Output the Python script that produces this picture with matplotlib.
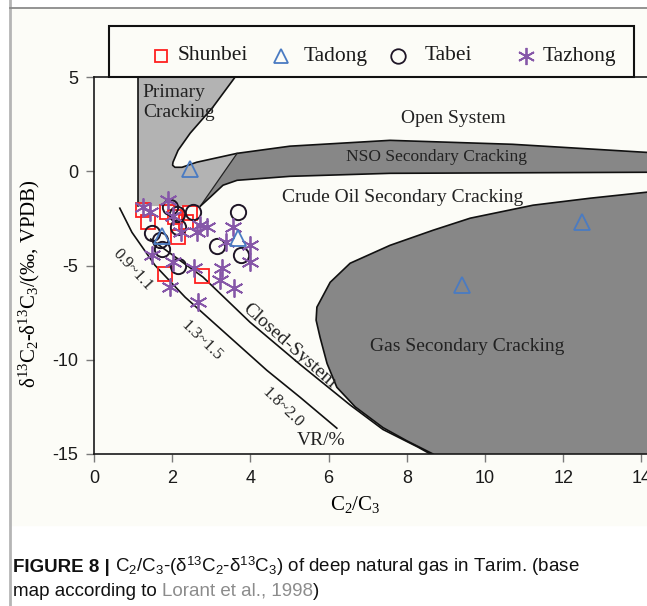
import numpy as np
import matplotlib.pyplot as plt
from matplotlib.patches import Polygon, Rectangle
from matplotlib.lines import Line2D

plt.rcParams['font.family'] = ['Liberation Serif', 'DejaVu Serif']
plt.rcParams['mathtext.fontset'] = 'custom'
plt.rcParams['mathtext.rm'] = 'Liberation Serif'
plt.rcParams['mathtext.it'] = 'Liberation Serif:italic'
plt.rcParams['mathtext.sf'] = 'Liberation Sans'
plt.rcParams['axes.unicode_minus'] = False

# C2/C3 ratio and d13C2-d13C3 for each area
shunbei_x = [1.25, 1.38, 1.87, 2.07, 2.46, 2.35, 2.15, 1.82, 2.76]
shunbei_y = [-2.07, -2.71, -2.18, -2.44, -2.23, -2.71, -3.50, -5.46, -5.57]

tadong_x = [2.45, 1.74, 3.68, 9.41, 12.48]
tadong_y = [0.1, -3.45, -3.55, -6.05, -2.7]

tabei_x = [1.94, 2.12, 2.53, 2.15, 1.48, 1.69, 1.74, 2.15, 3.15, 3.68, 3.76]
tabei_y = [-1.91, -2.28, -2.18, -2.97, -3.29, -3.66, -4.14, -5.04, -3.98, -2.18, -4.46]

tazhong_x = [1.25, 1.43, 1.89, 2.02, 2.23, 2.63, 2.89, 3.55, 3.38, 3.99, 3.99,
             1.48, 2.02, 2.56, 3.27, 3.22, 3.58, 1.94, 2.66, 2.71]
tazhong_y = [-1.91, -2.18, -1.54, -2.39, -3.24, -3.24, -2.97, -2.97, -3.77, -3.93, -4.83,
             -4.46, -4.83, -5.15, -5.15, -5.78, -6.21, -6.15, -6.95, -2.86]

# base map (Lorant et al., 1998) outlines, data units
primary_left = 1.125
primary_curve = [(3.61, 5.0), (3.04, 3.40), (2.46, 2.02), (2.15, 1.11), (2.02, 0.48),
                 (2.01, 0.32), (2.07, 0.21), (2.25, 0.21), (2.63, 0.48), (3.66, 0.95)]
nso_top = [(3.66, 0.95), (5.01, 1.33), (7.57, 1.64), (10.7, 1.43), (14.14, 1.0), (14.6, 0.97)]
nso_bottom = [(2.72, -1.85), (2.97, -1.38), (3.30, -0.74), (3.66, -0.48), (5.01, -0.27),
              (7.57, -0.11), (14.6, -0.05)]
primary_bottom = -1.85
gas_edge = [(14.6, -0.97), (14.14, -1.11), (12.69, -1.43), (11.23, -1.80), (9.62, -2.49),
            (8.67, -3.13), (7.57, -3.93), (6.55, -4.88), (6.04, -5.89), (5.70, -7.21),
            (5.68, -7.9), (5.78, -8.8), (5.96, -10.2), (6.21, -11.46), (6.68, -12.5),
            (7.39, -13.6), (8.0, -14.3), (8.67, -15.0)]
vr_line = [(0.66, -1.96), (0.97, -3.24), (1.56, -4.99), (2.33, -6.68), (4.42, -10.56),
           (5.27, -11.99), (6.21, -13.63)]
closed_line = [(1.45, -3.6), (2.79, -5.62), (3.99, -8.01), (5.27, -10.25), (6.55, -12.4),
               (7.39, -13.7), (8.29, -14.64), (8.6, -15.0)]

light_gray = '#b3b3b3'
dark_gray = '#878787'

W, H = 647, 606
fig = plt.figure(figsize=(W / 100, H / 100), dpi=100)
fig.patch.set_facecolor('white')
fig.patches.append(Rectangle((10 / W, 1 - 525 / H), 1, 525 / H - 8 / H,
                             transform=fig.transFigure, color='#fcfcf7', zorder=-5))
fig.add_artist(Line2D([10 / W, 10 / W], [0, 1], color='#b5b5b5', lw=2))
fig.add_artist(Line2D([10 / W, 1], [1 - 8 / H, 1 - 8 / H], color='#8a8a8a', lw=1.3))

ax = fig.add_axes([94 / W, 1 - 454 / H, 567 / W, 377 / H])
ax.set_facecolor('none')
ax.set_xlim(0, 14.5)
ax.set_ylim(-15, 5)

# gray fields
primary_poly = [(primary_left, 5.0)] + primary_curve + [nso_bottom[0], (primary_left, primary_bottom)]
ax.add_patch(Polygon(primary_poly, closed=True, fc=light_gray, ec='none', zorder=1))
nso_poly = nso_top + nso_bottom[::-1]
ax.add_patch(Polygon(nso_poly, closed=True, fc=dark_gray, ec='none', zorder=1))
gas_poly = gas_edge + [(14.6, -15.0)]
ax.add_patch(Polygon(gas_poly, closed=True, fc=dark_gray, ec='none', zorder=1))

# outlines
line_kw = dict(color='#111111', lw=1.2, zorder=2)
ax.plot([primary_left, primary_left], [5.0, primary_bottom], **line_kw)
px, py = zip(*(primary_curve + nso_top[1:]))
ax.plot(px, py, **line_kw)
ax.plot([nso_top[0][0], nso_bottom[0][0]], [nso_top[0][1], nso_bottom[0][1]], color='#222222', lw=0.9, zorder=2)
bx, by = zip(*nso_bottom)
ax.plot(bx, by, **line_kw)
gx, gy = zip(*gas_edge)
ax.plot(gx, gy, **line_kw)
vx, vy = zip(*vr_line)
ax.plot(vx, vy, **line_kw)
cx, cy = zip(*closed_line)
ax.plot(cx, cy, **line_kw)

# field labels
lab = dict(color='#222222', ha='center', va='center', zorder=3)
ax.text(1.25, 4.19, 'Primary', fontsize=14, ha='left', va='center', color='#222222', zorder=3)
ax.text(1.25, 3.13, 'Cracking', fontsize=14, ha='left', va='center', color='#222222', zorder=3)
ax.text(9.18, 2.81, 'Open System', fontsize=14, **lab)
ax.text(8.77, 0.74, 'NSO Secondary Cracking', fontsize=12.5, **lab)
ax.text(7.88, -1.38, 'Crude Oil Secondary Cracking', fontsize=14, **lab)
ax.text(9.54, -9.28, 'Gas Secondary Cracking', fontsize=14, **lab)
ax.text(4.99, -9.28, 'Closed-System', fontsize=14, rotation=-41.5, **lab)
ax.text(1.0, -5.25, '0.9~1.1', fontsize=12, rotation=-47, **lab)
ax.text(2.74, -8.97, '1.3~1.5', fontsize=12, rotation=-44, **lab)
ax.text(4.81, -12.52, '1.8~2.0', fontsize=12, rotation=-44, **lab)
ax.text(5.81, -14.27, 'VR/%', fontsize=14, **lab)

# samples
mk = dict(ls='none', mfc='none', zorder=5)
ax.plot(shunbei_x, shunbei_y, marker='s', ms=9.5, mec='#ff2020', mew=1.3, label='Shunbei', **mk)
ax.plot(tabei_x, tabei_y, marker='o', ms=11, mec='#1e1526', mew=1.4, label='Tabei', **mk)
ax.plot(tazhong_x, tazhong_y, marker=(6, 2, 0), ms=13, mec='#8657a8', mew=1.3, label='Tazhong', **mk)
ax.plot(tadong_x, tadong_y, marker='^', ms=11, mec='#4a7bc2', mew=1.3, label='Tadong', **mk)

# axes styling
for side in ['left', 'bottom', 'top']:
    ax.spines[side].set_color('#1a1a1a')
    ax.spines[side].set_linewidth(1.2)
ax.spines['right'].set_visible(False)
ax.set_xticks(np.arange(0, 15, 2))
ax.set_yticks(np.arange(-15, 6, 5))
ax.tick_params(direction='out', length=5.8, width=1, color='#7a7a7a', pad=5.5,
               labelsize=13, labelcolor='#1a1a1a')
for t in ax.get_xticklabels() + ax.get_yticklabels():
    t.set_fontfamily('Liberation Sans')
ax.set_xlabel('C$_2$/C$_3$', fontsize=15)
ax.xaxis.set_label_coords((355 - 94) / 567, (454 - 494) / 377)
ax.set_ylabel('δ$^{13}$C$_2$-δ$^{13}$C$_3$/(‰, VPDB)', fontsize=15)
ax.yaxis.set_label_coords((42 - 94) / 567, (454 - 284) / 377)

# legend box above the plot
fig.patches.append(Rectangle((109 / W, 1 - 77 / H), (634 - 109) / W, 51 / H, transform=fig.transFigure,
                             fc='none', ec='#111111', lw=1.5, zorder=6))
legend_items = [('Shunbei', 's', 9.5, '#ff2020', 161, 178),
                ('Tadong', '^', 11, '#4a7bc2', 281, 304),
                ('Tabei', 'o', 11, '#1e1526', 398, 425),
                ('Tazhong', (6, 2, 0), 13, '#8657a8', 526, 543)]
for name, m, ms, c, mx, tx in legend_items:
    fig.add_artist(Line2D([mx / W], [1 - 56 / H], marker=m, ms=ms * 0.95, mfc='none', mec=c, mew=1.3, ls='none'))
    fig.text(tx / W, 1 - 56 / H, name, fontsize=15.5, va='center', ha='left', color='#1a1a1a')

# caption
renderer = fig.canvas.get_renderer()
cap_font = ['Liberation Sans', 'DejaVu Sans']


def caption_line(pieces, x_px, y_px):
    x = x_px / W
    for s, weight, color in pieces:
        t = fig.text(x, 1 - y_px / H, s, fontsize=13.5, family=cap_font, weight=weight,
                     color=color, va='baseline', ha='left')
        x = t.get_window_extent(renderer).x1 / W


caption_line([('FIGURE 8 |', 'bold', '#111111'),
              (r' C$_\mathsf{2}$/C$_\mathsf{3}$-(δ$^\mathsf{13}$C$_\mathsf{2}$-δ$^\mathsf{13}$C$_\mathsf{3}$)'
               ' of deep natural gas in Tarim. (base', 'normal', '#111111')], 13, 572)
caption_line([('map according to ', 'normal', '#111111'),
              ('Lorant et al., 1998', 'normal', '#8c8c8c'),
              (')', 'normal', '#111111')], 13, 596)

fig.savefig('out.png', dpi=100, facecolor=fig.get_facecolor())
plt.close('all')
